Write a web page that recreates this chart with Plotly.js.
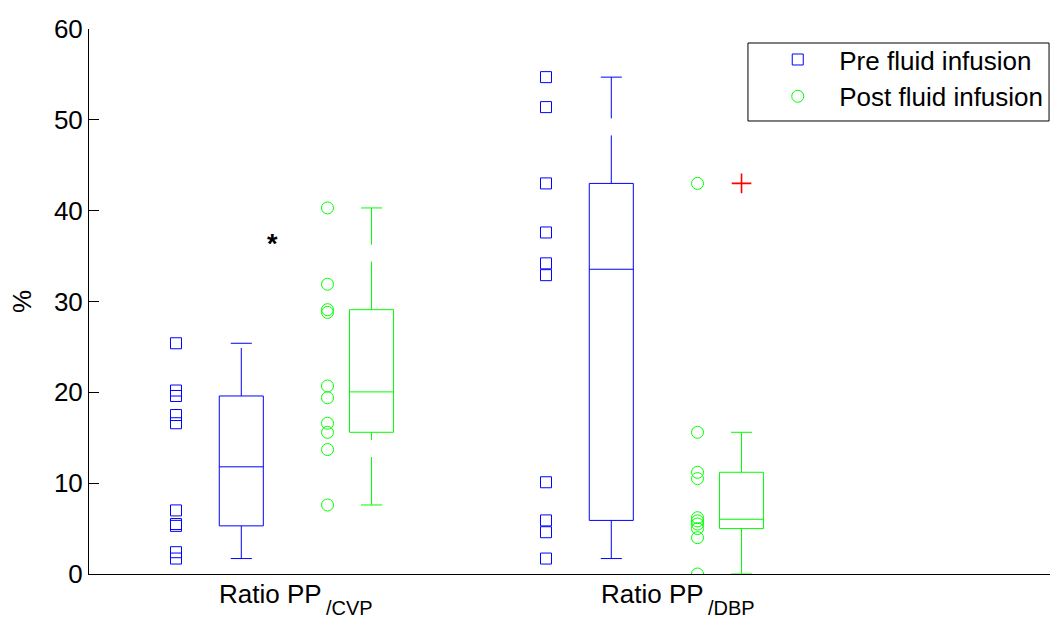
<!DOCTYPE html>
<html>
<head>
<meta charset="utf-8">
<script src="https://cdn.plot.ly/plotly-3.0.1.min.js"></script>
<style>
  html, body { margin: 0; padding: 0; background: #ffffff; }
  #chart { width: 1050px; height: 619px; }
</style>
</head>
<body>
<div id="chart"></div>
<script>
// Group labels on the x axis (main text + subscript) and series names
const categoryMain = ['Ratio PP', 'Ratio PP'];
const categorySub = ['/CVP', '/DBP'];
const seriesNames = ['Pre fluid infusion', 'Post fluid infusion'];

// Individual measurements (%), one value per subject
const preCVP  = [25.4, 20.2, 19.6, 17.5, 16.6, 7.0, 5.5, 5.3, 2.4, 1.7];
const postCVP = [40.3, 31.9, 29.1, 28.8, 20.7, 19.4, 16.6, 15.6, 13.7, 7.6];
const preDBP  = [54.7, 51.4, 43.0, 37.6, 34.2, 32.9, 10.1, 5.9, 4.6, 1.7];
const postDBP = [43.0, 15.6, 11.2, 10.5, 6.2, 5.85, 5.5, 5.0, 4.0, 0.0];

// Y axis ticks
const yTicks = [0, 10, 20, 30, 40, 50, 60];

// Layout of the groups along the x axis
const groupPos = [1, 2];
const boxOffset = [0, 0.352];
const pointOffset = [-0.1765, 0.233];
const labelSplit = [1.2235, 2.2565];
const boxWidth = 0.119;
const capWidth = 0.057;
const colors = ['#0000ff', '#00ff00'];
const symbols = ['square-open', 'circle-open'];
const symbolSizes = [11, 12];
const FONT = 'Liberation Sans, Arial, Helvetica, sans-serif';

// Percentile with the (i - 0.5)/n plotting positions
function prc(sorted, p) {
  const n = sorted.length;
  const pos = n * p + 0.5;
  if (pos <= 1) return sorted[0];
  if (pos >= n) return sorted[n - 1];
  const lo = Math.floor(pos);
  const f = pos - lo;
  return sorted[lo - 1] + f * (sorted[lo] - sorted[lo - 1]);
}

function boxStats(values) {
  const s = values.slice().sort((a, b) => a - b);
  const q1 = prc(s, 0.25), med = prc(s, 0.5), q3 = prc(s, 0.75);
  const iqr = q3 - q1;
  const hiLim = q3 + 1.5 * iqr, loLim = q1 - 1.5 * iqr;
  const inside = s.filter(v => v >= loLim && v <= hiLim);
  return {
    q1, med, q3,
    lo: inside[0],
    hi: inside[inside.length - 1],
    outliers: s.filter(v => v < loLim || v > hiLim)
  };
}

const seriesData = [[preCVP, preDBP], [postCVP, postDBP]];
const pointTraces = [];
const boxTraces = [];

seriesData.forEach((groups, s) => {
  groups.forEach((vals, g) => {
    // raw points beside each box
    pointTraces.push({
      type: 'scatter', mode: 'markers',
      x: vals.map(() => groupPos[g] + pointOffset[s]),
      y: vals,
      name: seriesNames[s],
      showlegend: g === 0,
      marker: { symbol: symbols[s], size: symbolSizes[s], color: colors[s], line: { color: colors[s], width: 1 } },
      hoverinfo: 'y'
    });

    const st = boxStats(vals);
    const xc = groupPos[g] + boxOffset[s];

    // box: quartiles and median
    boxTraces.push({
      type: 'box', orientation: 'v',
      x: [xc], q1: [st.q1], median: [st.med], q3: [st.q3],
      lowerfence: [st.q1], upperfence: [st.q3],
      width: boxWidth, whiskerwidth: 0,
      line: { color: colors[s], width: 1 },
      fillcolor: 'rgba(0,0,0,0)',
      boxpoints: false, showlegend: false, hoverinfo: 'skip'
    });

    // dashed whiskers
    const whisker = (y0, y1) => ({
      type: 'scatter', mode: 'lines',
      x: [xc, xc], y: [y0, y1],
      line: { color: colors[s], width: 1, dash: '48px,17px' },
      showlegend: false, hoverinfo: 'skip'
    });
    boxTraces.push(whisker(st.q3, st.hi));
    boxTraces.push(whisker(st.lo, st.q1));

    // whisker caps
    [st.hi, st.lo].forEach(v => {
      boxTraces.push({
        type: 'scatter', mode: 'lines',
        x: [xc - capWidth / 2, xc + capWidth / 2], y: [v, v],
        line: { color: colors[s], width: 1 },
        showlegend: false, hoverinfo: 'skip'
      });
    });

    // outliers
    if (st.outliers.length) {
      boxTraces.push({
        type: 'scatter', mode: 'markers',
        x: st.outliers.map(() => xc), y: st.outliers,
        marker: { symbol: 'cross-thin', size: 14, color: '#ff0000', line: { color: '#ff0000', width: 1.6 } },
        showlegend: false, hoverinfo: 'y'
      });
    }
  });
});

// group labels: main text ends at the split, subscript starts there
const labelAnnotations = [];
categoryMain.forEach((txt, i) => {
  labelAnnotations.push({
    x: labelSplit[i], y: 0, xref: 'x', yref: 'paper',
    xanchor: 'right', yanchor: 'middle', yshift: -20,
    text: txt, showarrow: false,
    font: { family: FONT, size: 26, color: '#000000' }
  });
  labelAnnotations.push({
    x: labelSplit[i], y: 0, xref: 'x', yref: 'paper',
    xanchor: 'left', yanchor: 'middle', yshift: -34, xshift: 0,
    text: categorySub[i], showarrow: false,
    font: { family: FONT, size: 20, color: '#000000' }
  });
});

const layout = {
  width: 1050, height: 619,
  margin: { l: 89, r: 0, t: 29, b: 45 },
  paper_bgcolor: '#ffffff', plot_bgcolor: '#ffffff',
  font: { family: FONT, size: 26, color: '#000000' },
  showlegend: true,
  legend: {
    x: 0.686, y: 0.987, xanchor: 'left', yanchor: 'top',
    bgcolor: 'rgba(0,0,0,0)', borderwidth: 0,
    font: { family: FONT, size: 26, color: '#000000' },
    tracegroupgap: 0,
    indentation: 8, itemwidth: 73
  },
  // frame around the legend entries
  shapes: [{
    type: 'rect', xref: 'paper', yref: 'paper',
    x0: 0.6857, x1: 0.999, y0: 0.8312, y1: 0.9743,
    line: { color: '#000000', width: 1 }, fillcolor: '#ffffff', layer: 'below'
  }],
  xaxis: {
    range: [0.5884, 3.1857],
    showticklabels: false,
    ticks: '', showgrid: false, zeroline: false,
    showline: true, linecolor: '#000000', linewidth: 1
  },
  yaxis: {
    range: [0, 60],
    tickvals: yTicks,
    ticks: 'inside', ticklen: 10, tickcolor: '#000000', tickwidth: 1,
    showgrid: false, zeroline: false,
    showline: true, linecolor: '#000000', linewidth: 1,
    tickfont: { family: FONT, size: 26, color: '#000000' },
    title: { text: '%', standoff: 14, font: { family: FONT, size: 26, color: '#000000' } }
  },
  annotations: labelAnnotations.concat([{
    x: 1.0838, y: 36.85, xref: 'x', yref: 'y',
    text: '<b>*</b>', showarrow: false,
    font: { family: FONT, size: 27, color: '#000000' },
    yshift: -5
  }])
};

Plotly.newPlot('chart', pointTraces.concat(boxTraces), layout, { displayModeBar: false, staticPlot: true });
</script>
</body>
</html>
